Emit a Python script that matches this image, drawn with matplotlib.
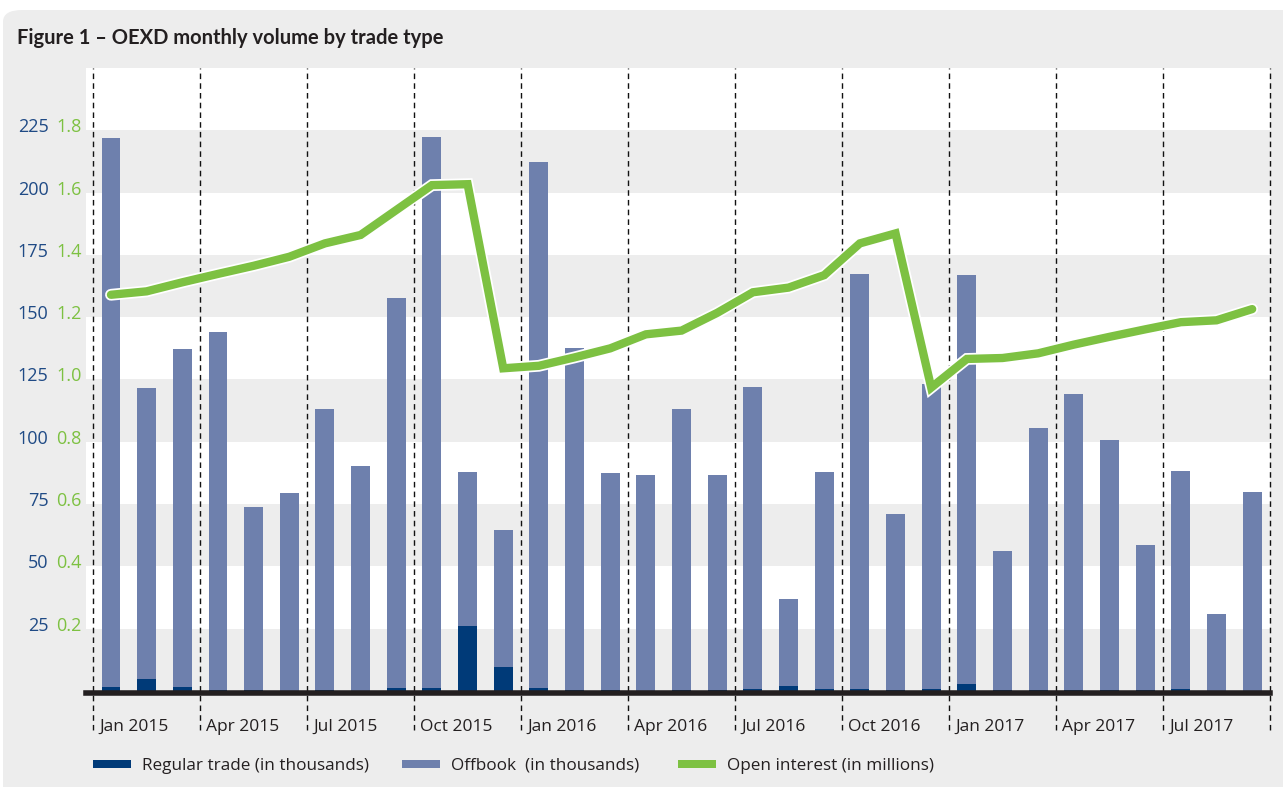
import numpy as np
import matplotlib
matplotlib.use("Agg")
import matplotlib.pyplot as plt
import matplotlib.patheffects as pe
from matplotlib.patches import FancyBboxPatch, Rectangle
from matplotlib.transforms import ScaledTranslation

# monthly data, Jan 2015 .. Sep 2017
months = [f"{m} {y}" for y in (2015, 2016, 2017)
          for m in ("Jan", "Feb", "Mar", "Apr", "May", "Jun",
                    "Jul", "Aug", "Sep", "Oct", "Nov", "Dec")][:33]

regular = [1.6, 5.0, 1.6, 0.6, 0.3, 0.0, 0.6, 0.0, 1.2, 1.2, 26.0, 9.8,
           1.2, 0.6, 0.6, 0.0, 0.3, 0.6, 1.0, 1.9, 1.0, 1.0, 0.3, 1.0,
           2.7, 0.6, 0.3, 0.3, 0.3, 0.6, 1.0, 0.0, 0.0]

offbook = [220.3, 116.6, 135.6, 143.5, 73.5, 79.5, 112.6, 90.3, 156.5, 221.1, 61.9, 54.9,
           211.1, 137.0, 86.9, 86.7, 112.9, 86.1, 121.0, 34.9, 86.9, 166.3, 70.7, 122.2,
           164.2, 55.6, 105.2, 118.9, 100.4, 58.0, 87.3, 30.7, 79.9]

open_interest = [1.272, 1.283, 1.312, 1.339, 1.365, 1.394, 1.437, 1.464, 1.544, 1.624, 1.627, 1.036,
                 1.044, 1.071, 1.100, 1.145, 1.157, 1.214, 1.280, 1.295, 1.335, 1.437, 1.469, 0.974,
                 1.066, 1.069, 1.084, 1.112, 1.137, 1.161, 1.184, 1.190, 1.226]

quarter_labels = ["Jan 2015", "Apr 2015", "Jul 2015", "Oct 2015",
                  "Jan 2016", "Apr 2016", "Jul 2016", "Oct 2016",
                  "Jan 2017", "Apr 2017", "Jul 2017"]

vol_ticks = [25, 50, 75, 100, 125, 150, 175, 200, 225]
oi_ticks = [0.2, 0.4, 0.6, 0.8, 1.0, 1.2, 1.4, 1.6, 1.8]

C_REG = "#003a78"
C_OFF = "#6e80ad"
C_OI = "#7dc142"
C_BLUE = "#1f4a85"
C_BG = "#ededed"
C_TXT = "#231f20"

W, H = 1283, 787
plt.rcParams["font.family"] = ["Open Sans", "DejaVu Sans"]

fig = plt.figure(figsize=(W / 100, H / 100), dpi=100, facecolor="white")
fig.add_artist(FancyBboxPatch((3 / W, -0.05), 1.1, (787 - 10) / H + 0.05,
                              boxstyle="round,pad=0,rounding_size=0.015",
                              transform=fig.transFigure, facecolor=C_BG,
                              edgecolor="none", zorder=-10))

fig.text(17 / W, 1 - 44 / H, "Figure 1 \u2013 OEXD monthly volume by trade type",
         fontsize=14.5, fontweight="bold", family=["Lato", "DejaVu Sans"],
         color=C_TXT, va="baseline", ha="left")

ax = fig.add_axes([86 / W, 1 - 691 / H, (1270 - 86) / W, (691 - 68) / H])
ax.set_facecolor("white")
x = np.arange(len(months))

for lo in range(0, 225, 50):
    ax.axhspan(lo, lo + 25, color=C_BG, lw=0, zorder=0)

ax.bar(x, regular, width=0.53, color=C_REG, zorder=2)
ax.bar(x, offbook, width=0.53, bottom=regular, color=C_OFF, zorder=2)

qpos = np.arange(-0.5, len(months), 3)
ax.vlines(qpos, -0.063, 1, transform=ax.get_xaxis_transform(), colors="#111111",
          linewidth=1.0, linestyles=(0, (4, 3)), clip_on=False, zorder=3)
ax.axhline(-1.0, color=C_TXT, linewidth=4, zorder=4, clip_on=False)

ax.set_xlim(-0.7, 32.5)
ax.set_ylim(0, 250)
for s in ax.spines.values():
    s.set_visible(False)

ax.set_xticks(qpos[:len(quarter_labels)])
ax.set_xticklabels(quarter_labels, ha="left", fontsize=12.5, color=C_TXT)
ax.tick_params(axis="x", length=0, pad=20)
off_x = ScaledTranslation(6 / 100, 0, fig.dpi_scale_trans)
for lab in ax.get_xticklabels():
    lab.set_transform(lab.get_transform() + off_x)

ax.set_yticks(vol_ticks)
ax.set_yticklabels([str(v) for v in vol_ticks], fontsize=13, color=C_BLUE)
ax.tick_params(axis="y", length=0, pad=27)

ax2 = ax.twinx()
ax2.set_ylim(0, 2.0)
ax2.yaxis.set_ticks_position("left")
ax2.set_yticks(oi_ticks)
ax2.set_yticklabels([f"{v:.1f}" for v in oi_ticks], fontsize=13, color=C_OI)
ax2.tick_params(axis="y", length=0, pad=3)
for s in ax2.spines.values():
    s.set_visible(False)

off_y = ScaledTranslation(0, 5 / 100, fig.dpi_scale_trans)
for lab in ax.get_yticklabels() + ax2.get_yticklabels():
    lab.set_transform(lab.get_transform() + off_y)

ax2.plot(x, open_interest, color=C_OI, linewidth=6, solid_capstyle="round",
         solid_joinstyle="miter", zorder=5,
         path_effects=[pe.Stroke(linewidth=8.5, foreground="white"), pe.Normal()])

# legend drawn by hand along the bottom
legend_items = [(93, C_REG, "Regular trade (in thousands)"),
                (402, C_OFF, "Offbook  (in thousands)"),
                (678, C_OI, "Open interest (in millions)")]
for px, col, txt in legend_items:
    fig.add_artist(Rectangle((px / W, 1 - 768 / H), 38 / W, 8 / H,
                             transform=fig.transFigure, facecolor=col, edgecolor="none"))
    fig.text((px + 49) / W, 1 - 766 / H, txt, fontsize=12.3, color=C_TXT,
             va="center", ha="left")

fig.savefig("out.png", dpi=100, facecolor=fig.get_facecolor())
